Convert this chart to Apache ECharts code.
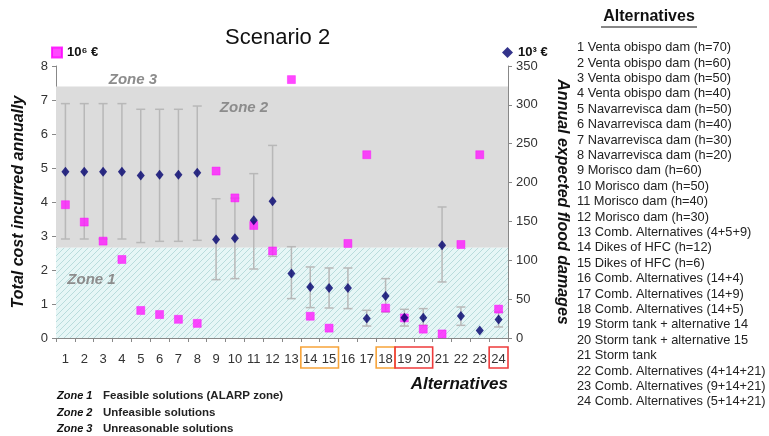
<!DOCTYPE html>
<html>
<head>
<meta charset="utf-8">
<title>Scenario 2</title>
<script src="https://cdn.jsdelivr.net/npm/echarts@6/dist/echarts.min.js"></script>
<style>
  html, body { margin: 0; padding: 0; background: #fff; }
  #container { width: 769px; height: 436px; }
</style>
</head>
<body>
<div id="container"></div>
<script type="text/javascript">
// --- data ---
var categories = ['1','2','3','4','5','6','7','8','9','10','11','12','13','14','15','16','17','18','19','20','21','22','23','24'];
// total cost incurred annually (10^6 EUR), left axis
var cost = [3.92, 3.41, 2.85, 2.31, 0.81, 0.69, 0.55, 0.43, 4.91, 4.12, 3.31, 2.56, 7.60, 0.64, 0.29, 2.78, 5.39, 0.88, 0.59, 0.26, 0.12, 2.75, 5.39, 0.85];
// annual expected flood damages (10^3 EUR), right axis
var damages = [214, 214, 214, 214, 209, 210, 210, 212.5, 126.6, 128.3, 151.5, 175.9, 82.9, 65.6, 64.3, 64.3, 25, 54, 26.2, 26.2, 119.3, 28.3, 9.5, 23.7];
var damagesLow = [127.4, 127.4, 127.4, 127.4, 122.8, 124.4, 124.4, 125.7, 75.1, 76.4, 88.8, 105.1, 50.7, 39.1, 38.6, 37.8, 15.4, 33.5, 15.4, 16.3, 72.1, 16.3, null, 14.2];
var damagesHigh = [301.6, 301.6, 301.6, 301.6, 294.3, 294.3, 294.3, 298.5, 179.2, 180, 211.5, 247.8, 117.5, 91.4, 90.1, 90.1, 35.6, 76.4, 36.9, 37.8, 168.6, 39.9, null, 33.5];
var leftTicks = [0, 8, 1];
var rightTicks = [0, 350, 50];
var zone1Top = 2.66;
var zone2Top = 7.4;
var boxedGroups = [[14, 15, '#f7a43a'], [18, 18, '#f7a43a'], [19, 20, '#ee3b3b'], [24, 24, '#ee3b3b']];
var altNames = [
  '1 Venta obispo dam (h=70)', '2 Venta obispo dam (h=60)', '3 Venta obispo dam (h=50)',
  '4 Venta obispo dam (h=40)', '5 Navarrevisca dam (h=50)', '6 Navarrevisca dam (h=40)',
  '7 Navarrevisca dam (h=30)', '8 Navarrevisca dam (h=20)', '9 Morisco dam (h=60)',
  '10 Morisco dam (h=50)', '11 Morisco dam (h=40)', '12 Morisco dam (h=30)',
  '13 Comb. Alternatives (4+5+9)', '14 Dikes of HFC (h=12)', '15 Dikes of HFC (h=6)',
  '16 Comb. Alternatives (14+4)', '17 Comb. Alternatives (14+9)', '18 Comb. Alternatives (14+5)',
  '19 Storm tank + alternative 14', '20 Storm tank + alternative 15', '21 Storm tank',
  '22 Comb. Alternatives (4+14+21)', '23 Comb. Alternatives (9+14+21)', '24 Comb. Alternatives (5+14+21)'
];
var zoneNotes = [['Zone 1', 'Feasible solutions (ALARP zone)'], ['Zone 2', 'Unfeasible solutions'], ['Zone 3', 'Unreasonable solutions']];

var FONT = 'Liberation Sans, Arial, sans-serif';

// hatched fill for zone 1
var hatch = document.createElement('canvas');
hatch.width = 6; hatch.height = 6;
var hc = hatch.getContext('2d');
hc.fillStyle = '#e6f6f6';
hc.fillRect(0, 0, 6, 6);
hc.strokeStyle = '#b9dcdc';
hc.lineWidth = 1;
hc.beginPath();
hc.moveTo(0, 6); hc.lineTo(6, 0);
hc.moveTo(-1, 1); hc.lineTo(1, -1);
hc.moveTo(5, 7); hc.lineTo(7, 5);
hc.stroke();

var errData = [];
for (var i = 0; i < categories.length; i++) {
  if (damagesLow[i] != null) errData.push([i, damagesLow[i], damagesHigh[i]]);
}

var dom = document.getElementById('container');
var myChart = echarts.init(dom);

var option = {
  animation: false,
  textStyle: { fontFamily: FONT },
  title: {
    text: 'Scenario 2',
    left: 220, top: 22,
    textStyle: { fontSize: 22, fontWeight: 'normal', color: '#111', fontFamily: FONT }
  },
  legend: [
    {
      data: ['10⁶ €'], left: 46, top: 41, itemWidth: 10, itemHeight: 10, itemGap: 4,
      textStyle: { fontSize: 13, fontWeight: 'bold', color: '#111', fontFamily: FONT }
    },
    {
      data: ['10³ €'], left: 497, top: 41, itemWidth: 11, itemHeight: 11, itemGap: 4,
      textStyle: { fontSize: 13, fontWeight: 'bold', color: '#111', fontFamily: FONT }
    }
  ],
  grid: { left: 56, right: 261, top: 66, bottom: 98 },
  xAxis: {
    type: 'category',
    data: categories,
    boundaryGap: true,
    name: 'Alternatives',
    nameLocation: 'end',
    nameGap: 0,
    nameTextStyle: {
      fontSize: 17, fontWeight: 'bold', fontStyle: 'italic', color: '#111',
      align: 'right', verticalAlign: 'top', padding: [38, 0, 0, 0]
    },
    axisLine: { lineStyle: { color: '#888', width: 1 } },
    axisTick: { show: true, length: 4, lineStyle: { color: '#888' } },
    axisLabel: { interval: 0, margin: 15, fontSize: 13, color: '#333' },
    splitLine: { show: false }
  },
  yAxis: [
    {
      type: 'value', min: leftTicks[0], max: leftTicks[1], interval: leftTicks[2],
      position: 'left',
      name: 'Total cost incurred annually',
      nameLocation: 'middle', nameGap: 29,
      nameTextStyle: { fontSize: 16, fontWeight: 'bold', fontStyle: 'italic', color: '#111' },
      axisLine: { show: true, lineStyle: { color: '#888' } },
      axisTick: { show: true, length: 4, lineStyle: { color: '#888' } },
      axisLabel: { fontSize: 13, color: '#333', margin: 8 },
      splitLine: { show: false }
    },
    {
      type: 'value', min: rightTicks[0], max: rightTicks[1], interval: rightTicks[2],
      position: 'right',
      name: 'Annual expected flood damages',
      nameLocation: 'middle', nameGap: 46, nameRotate: -90,
      nameTextStyle: { fontSize: 16, fontWeight: 'bold', fontStyle: 'italic', color: '#111' },
      axisLine: { show: true, lineStyle: { color: '#888' } },
      axisTick: { show: true, length: 4, lineStyle: { color: '#888' } },
      axisLabel: { fontSize: 13, color: '#333', margin: 8 },
      splitLine: { show: false }
    }
  ],
  series: [
    {
      name: 'zones',
      type: 'line',
      yAxisIndex: 0,
      data: [],
      silent: true,
      z: 0,
      markArea: {
        silent: true,
        label: { show: false },
        data: [
          [{ yAxis: 0, itemStyle: { color: { image: hatch, repeat: 'repeat' } } }, { yAxis: zone1Top }],
          [{ yAxis: zone1Top, itemStyle: { color: '#dcdcdc' } }, { yAxis: zone2Top }]
        ]
      }
    },
    {
      name: 'err',
      type: 'custom',
      yAxisIndex: 1,
      z: 3,
      silent: true,
      encode: { x: 0, y: [1, 2] },
      data: errData,
      renderItem: function (params, api) {
        var lo = api.coord([api.value(0), api.value(1)]);
        var hi = api.coord([api.value(0), api.value(2)]);
        var st = { stroke: '#b8b8b8', lineWidth: 1.5 };
        var cw = 4.5;
        return {
          type: 'group',
          children: [
            { type: 'line', shape: { x1: lo[0], y1: lo[1], x2: hi[0], y2: hi[1] }, style: st },
            { type: 'line', shape: { x1: lo[0] - cw, y1: lo[1], x2: lo[0] + cw, y2: lo[1] }, style: st },
            { type: 'line', shape: { x1: hi[0] - cw, y1: hi[1], x2: hi[0] + cw, y2: hi[1] }, style: st }
          ]
        };
      }
    },
    {
      name: '10⁶ €',
      type: 'scatter',
      yAxisIndex: 0,
      z: 5,
      symbol: 'rect',
      symbolSize: 8,
      itemStyle: { color: '#ff1aff', borderColor: '#ff00ff', borderWidth: 0.5 },
      data: cost
    },
    {
      name: '10³ €',
      type: 'scatter',
      yAxisIndex: 1,
      z: 6,
      symbol: 'diamond',
      symbolSize: [8, 10],
      itemStyle: { color: '#00006e' },
      data: damages
    }
  ],
  graphic: []
};

myChart.setOption(option, true);

// annotations: zone labels, boxes round some categories, notes and the list of alternatives
var g = [];
function px(cat, val) { return myChart.convertToPixel({ xAxisIndex: 0, yAxisIndex: 0 }, [cat, val]); }
var band = px(1, 0)[0] - px(0, 0)[0];
var gridLeft = px(0, 0)[0] - band / 2;

var zoneStyle = { fontSize: 15, fontWeight: 'bold', fontStyle: 'italic', fill: '#8c8c8c', fontFamily: FONT };
// [label, offset in bands from the left edge, height in left-axis units]
var zl = [['Zone 3', 2.8, 7.58], ['Zone 2', 8.7, 6.78], ['Zone 1', 0.6, 1.7]];
zl.forEach(function (z) {
  g.push({ type: 'text', z: 20, x: gridLeft + z[1] * band, y: px(0, z[2])[1], style: Object.assign({ text: z[0], verticalAlign: 'middle' }, zoneStyle) });
});

boxedGroups.forEach(function (b) {
  var x0 = px(b[0] - 1, 0)[0] - band / 2;
  var x1 = px(b[1] - 1, 0)[0] + band / 2;
  var y0 = px(0, 0)[1];
  g.push({ type: 'rect', z: 20, shape: { x: x0, y: y0 + 9, width: x1 - x0, height: 21 }, style: { fill: null, stroke: b[2], lineWidth: 1.6 } });
});

zoneNotes.forEach(function (n, k) {
  var y = 396 + k * 16.5;
  g.push({ type: 'text', x: 57, y: y, style: { text: n[0], fontSize: 11, fontWeight: 'bold', fontStyle: 'italic', fill: '#111', verticalAlign: 'middle', fontFamily: FONT } });
  g.push({ type: 'text', x: 103, y: y, style: { text: n[1], fontSize: 11.5, fontWeight: 'bold', fill: '#222', verticalAlign: 'middle', fontFamily: FONT } });
});

g.push({ type: 'text', x: 649, y: 17, style: { text: 'Alternatives', fontSize: 16, fontWeight: 'bold', fill: '#111', align: 'center', verticalAlign: 'middle', fontFamily: FONT } });
g.push({ type: 'line', shape: { x1: 601, y1: 27, x2: 697, y2: 27 }, style: { stroke: '#111', lineWidth: 1.2 } });
g.push({ type: 'text', x: 577, y: 40, style: { text: altNames.join('\n'), fontSize: 12.8, lineHeight: 15.4, fill: '#222', verticalAlign: 'top', fontFamily: FONT } });

myChart.setOption({ graphic: g });
</script>
</body>
</html>
